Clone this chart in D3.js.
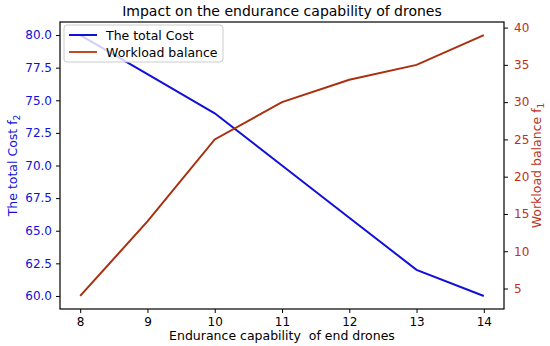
<!DOCTYPE html>
<html>
<head>
<meta charset="utf-8">
<script src="https://cdn.jsdelivr.net/npm/d3@7"></script>
<style>
body { margin: 0; background: #fff; }
svg { font-family: "DejaVu Sans", sans-serif; }
</style>
</head>
<body>
<svg id="chart" width="550" height="346"></svg>
<script>
var endurance = [8, 9, 10, 11, 12, 13, 14];
var totalCost = [80, 77, 74, 70, 66, 62, 60];
var workload = [4, 14, 25, 30, 33, 35, 39];
var costTicks = [60.0, 62.5, 65.0, 67.5, 70.0, 72.5, 75.0, 77.5, 80.0];
var workTicks = [5, 10, 15, 20, 25, 30, 35, 40];

var blue = "#1010d8";
var red = "#a8300f";
var redText = "#c0301a";

const svg = d3.select("#chart");
var pLeft = 60, pRight = 504, pTop = 22, pBottom = 309;

var x = d3.scaleLinear().domain([7.7, 14.3]).range([pLeft, pRight]);
var yL = d3.scaleLinear().domain([59, 81]).range([pBottom, pTop]);
var yR = d3.scaleLinear().domain([2.25, 40.75]).range([pBottom, pTop]);

// lines
var costLine = d3.line()
	.x(function(d,i){return x(endurance[i]);})
	.y(function(d){return yL(d);});
var workLine = d3.line()
	.x(function(d,i){return x(endurance[i]);})
	.y(function(d){return yR(d);});

svg.append("path")
	.datum(totalCost)
	.attr("d", costLine)
	.attr("fill","none")
	.attr("stroke",blue)
	.attr("stroke-width",2);

svg.append("path")
	.datum(workload)
	.attr("d", workLine)
	.attr("fill","none")
	.attr("stroke",red)
	.attr("stroke-width",2);

// frame
svg.append("rect")
	.attr("x",pLeft).attr("y",pTop)
	.attr("width",pRight-pLeft).attr("height",pBottom-pTop)
	.attr("fill","none").attr("stroke","#000").attr("stroke-width",1.2);

// axes
var xAxis = d3.axisBottom(x).tickValues(endurance).tickFormat(d3.format("d")).tickSize(4).tickPadding(4).tickSizeOuter(0);
var gx = svg.append("g").attr("transform","translate(0,"+pBottom+")").call(xAxis);
gx.select(".domain").remove();
gx.selectAll("text").attr("font-size",12).attr("fill","#000").style("font-family","DejaVu Sans");

var yAxisL = d3.axisLeft(yL).tickValues(costTicks).tickFormat(d3.format(".1f")).tickSize(4).tickPadding(4);
var gl = svg.append("g").attr("transform","translate("+pLeft+",0)").call(yAxisL);
gl.select(".domain").remove();
gl.selectAll("text").attr("font-size",12).attr("fill",blue).style("font-family","DejaVu Sans");

var yAxisR = d3.axisRight(yR).tickValues(workTicks).tickFormat(d3.format("d")).tickSize(4).tickPadding(6);
var gr = svg.append("g").attr("transform","translate("+pRight+",0)").call(yAxisR);
gr.select(".domain").remove();
gr.selectAll("text").attr("font-size",12).attr("fill",redText).style("font-family","DejaVu Sans");

// title and labels
svg.append("text")
	.attr("x",(pLeft+pRight)/2).attr("y",16)
	.attr("text-anchor","middle").attr("font-size",14)
	.text("Impact on the endurance capability of drones");

svg.append("text")
	.attr("x",(pLeft+pRight)/2).attr("y",340)
	.attr("text-anchor","middle").attr("font-size",12.5)
	.attr("xml:space","preserve")
	.text("Endurance capability  of end drones");

var ll = svg.append("text")
	.attr("transform","translate(17,"+((pTop+pBottom)/2)+") rotate(-90)")
	.attr("text-anchor","middle").attr("font-size",12.5)
	.attr("fill",blue);
ll.append("tspan").text("The total Cost f");
ll.append("tspan").attr("font-size",9).attr("dy",3).text("2");

var rl = svg.append("text")
	.attr("transform","translate(541,"+((pTop+pBottom)/2)+") rotate(-90)")
	.attr("text-anchor","middle").attr("font-size",12.5)
	.attr("fill",redText);
rl.append("tspan").text("Workload balance f");
rl.append("tspan").attr("font-size",9).attr("dy",3).text("1");

// legend
var legendNames = ["The total Cost", "Workload balance"];
var legendColors = [blue, "#c04a24"];
var lg = svg.append("g");
lg.append("rect")
	.attr("x",64).attr("y",25).attr("width",159).attr("height",37).attr("rx",3)
	.attr("fill","#fff").attr("fill-opacity",0.8).attr("stroke","#ccc");
lg.selectAll(".item")
	.data(legendNames)
	.enter()
	.append("g")
	.attr("class","item")
	.each(function(d,i){
		var g = d3.select(this);
		var yy = 35 + i*17;
		g.append("line").attr("x1",69).attr("x2",97).attr("y1",yy).attr("y2",yy)
			.attr("stroke",legendColors[i]).attr("stroke-width",2);
		g.append("text").attr("x",106).attr("y",yy+4.5).attr("font-size",12.5).text(d);
	});
</script>
</body>
</html>
